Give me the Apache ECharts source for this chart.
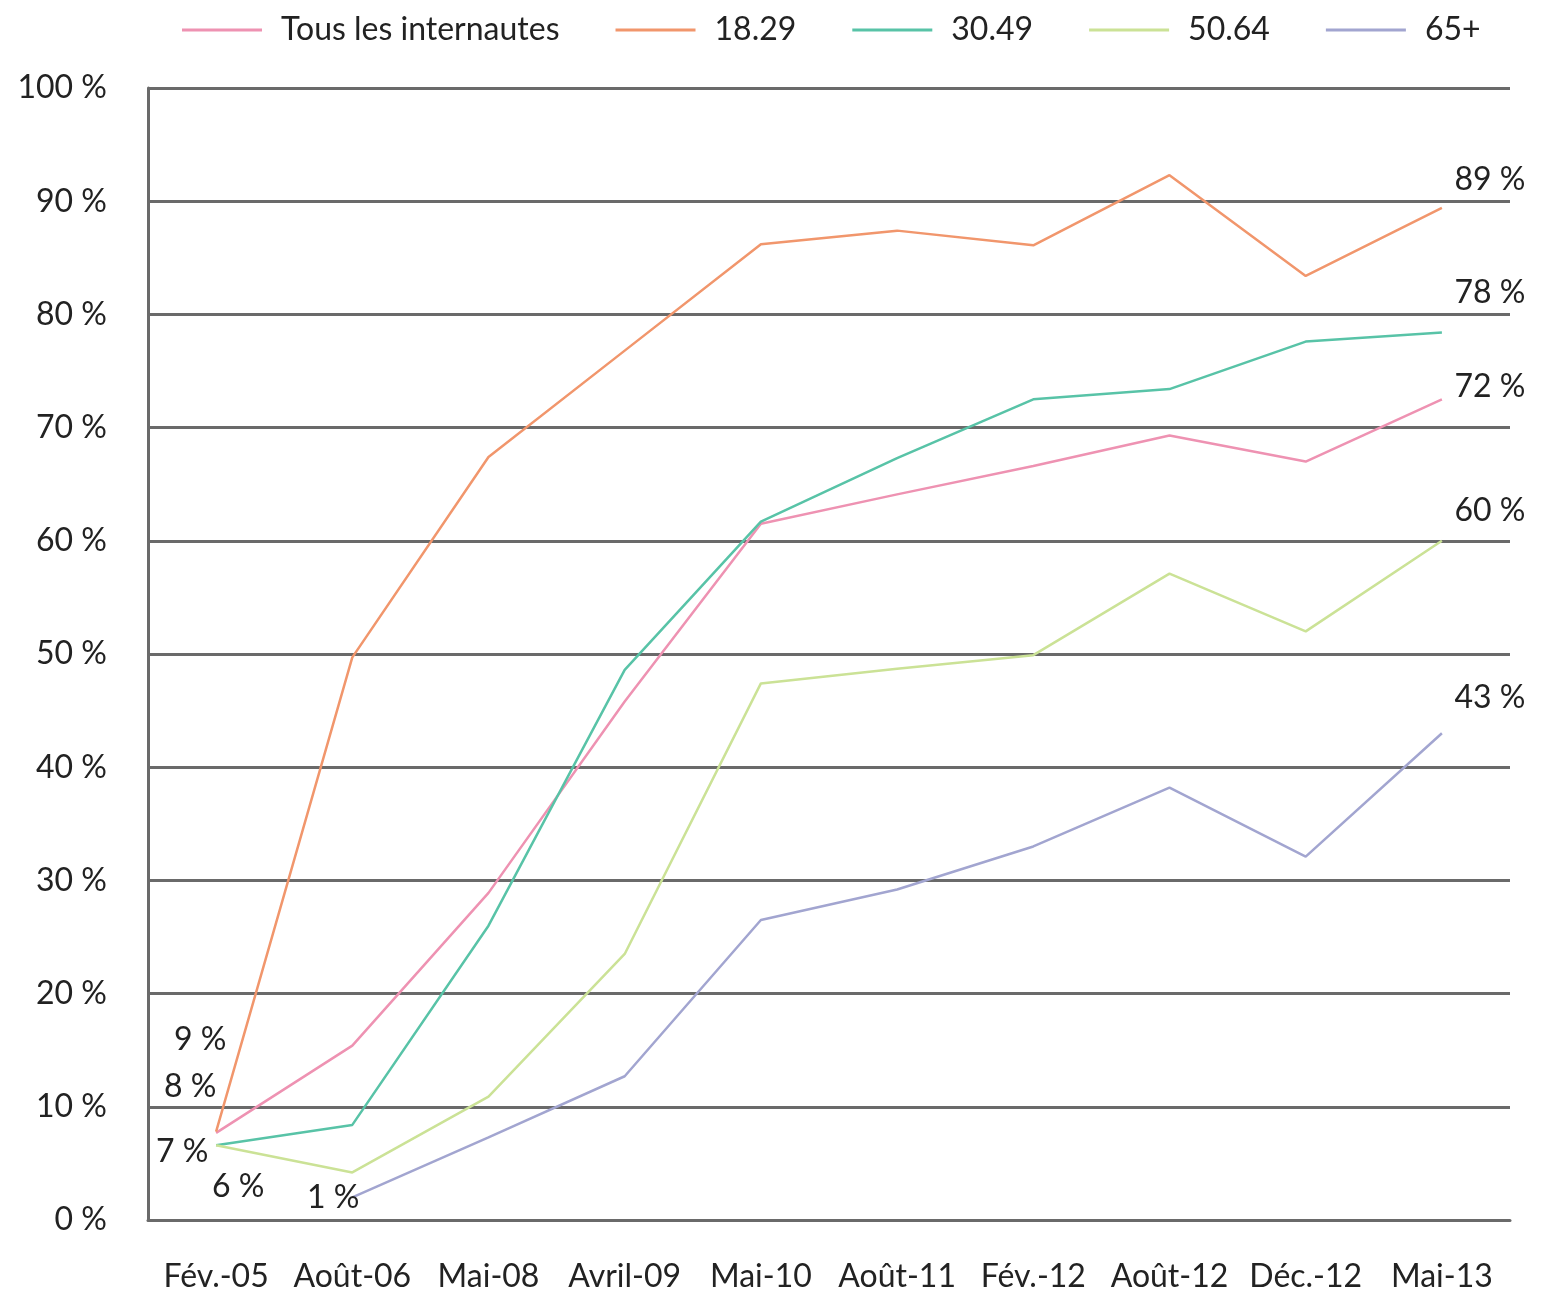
<!DOCTYPE html>
<html>
<head>
<meta charset="utf-8">
<script src="https://cdn.jsdelivr.net/npm/echarts@6/dist/echarts.min.js"></script>
<style>
html,body{margin:0;padding:0;background:#fff;}
#chart{width:1545px;height:1297px;}
</style>
</head>
<body>
<div id="chart"></div>
<script>
// ---- data ----
const categories = ['Fév.-05','Août-06','Mai-08','Avril-09','Mai-10','Août-11','Fév.-12','Août-12','Déc.-12','Mai-13'];
const seriesNames = ['Tous les internautes','18.29','30.49','50.64','65+'];
const tous  = [7.7, 15.4, 28.9, 45.8, 61.5, 64.1, 66.6, 69.3, 67.0, 72.5];
const a1829 = [7.8, 49.7, 67.4, 76.8, 86.2, 87.4, 86.1, 92.3, 83.4, 89.4];
const a3049 = [6.6, 8.4, 26.0, 48.6, 61.7, 67.3, 72.5, 73.4, 77.6, 78.4];
const a5064 = [6.6, 4.2, 10.9, 23.5, 47.4, 48.7, 49.9, 57.1, 52.0, 60.0];
const a65   = [null, 2.0, 7.3, 12.7, 26.5, 29.2, 33.0, 38.2, 32.1, 43.0];
const startLabels = ['8 %','9 %','7 %','6 %','1 %'];
const endLabels   = ['72 %','89 %','78 %','60 %','43 %'];

// ---- styling ----
const colors = ['#ee92b2','#f1966c','#58c3a7','#cbe296','#a2a5d0'];
const FONT = 'Lato';
const FS = 32;
const TXT = '#222';
const startOffsets = [[-26,-46],[-16,-92],[-34,6],[22,41],[-19,0]];
const endOffsets = [[48,-13],[48,-28],[48,-40],[48,-30],[48,-36]];
const startIdx = [0,0,0,0,1];

function build(values, k){
  return values.map((v,i)=>{
    if (v === null) return null;
    let lab = null;
    if (i === startIdx[k]) lab = {show:true, position:'inside', formatter:startLabels[k], offset:startOffsets[k]};
    if (i === values.length-1) lab = {show:true, position:'inside', formatter:endLabels[k], offset:endOffsets[k]};
    return lab ? {value:v, label:lab} : {value:v};
  });
}

const allValues = [tous, a1829, a3049, a5064, a65];
const chart = echarts.init(document.getElementById('chart'));
chart.setOption({
  animation:false,
  backgroundColor:'#fff',
  color: colors,
  legend:{
    top: 9, left: 177,
    itemWidth: 80, itemHeight: 3, itemGap: 56,
    icon: 'rect',
    textStyle:{fontFamily:FONT, fontSize:FS, color:TXT, padding:[0,0,0,14]},
    data: seriesNames
  },
  grid:{left:148, right:35, top:88, bottom:77},
  xAxis:{
    type:'category', data:categories, boundaryGap:true,
    axisLine:{show:true, lineStyle:{color:'#6a6a6a', width:3}},
    axisTick:{show:false},
    axisLabel:{fontFamily:FONT, fontSize:FS, color:TXT, margin:41, interval:0}
  },
  yAxis:{
    type:'value', min:0, max:100, interval:10,
    axisLine:{show:true, lineStyle:{color:'#6a6a6a', width:3}},
    axisTick:{show:false},
    splitLine:{show:true, lineStyle:{color:'#6a6a6a', width:3}},
    axisLabel:{fontFamily:FONT, fontSize:FS, color:TXT, margin:41, formatter:v=>v+' %'}
  },
  series: allValues.map((vals,k)=>({
    name: seriesNames[k],
    type:'line',
    data: build(vals,k),
    symbol:'circle', symbolSize:0.1, showSymbol:true,
    connectNulls:false,
    lineStyle:{width:2.5, color:colors[k]},
    itemStyle:{color:colors[k]},
    label:{fontFamily:FONT, fontSize:FS, color:TXT},
    z: 3 + k
  }))
});
</script>
</body>
</html>
